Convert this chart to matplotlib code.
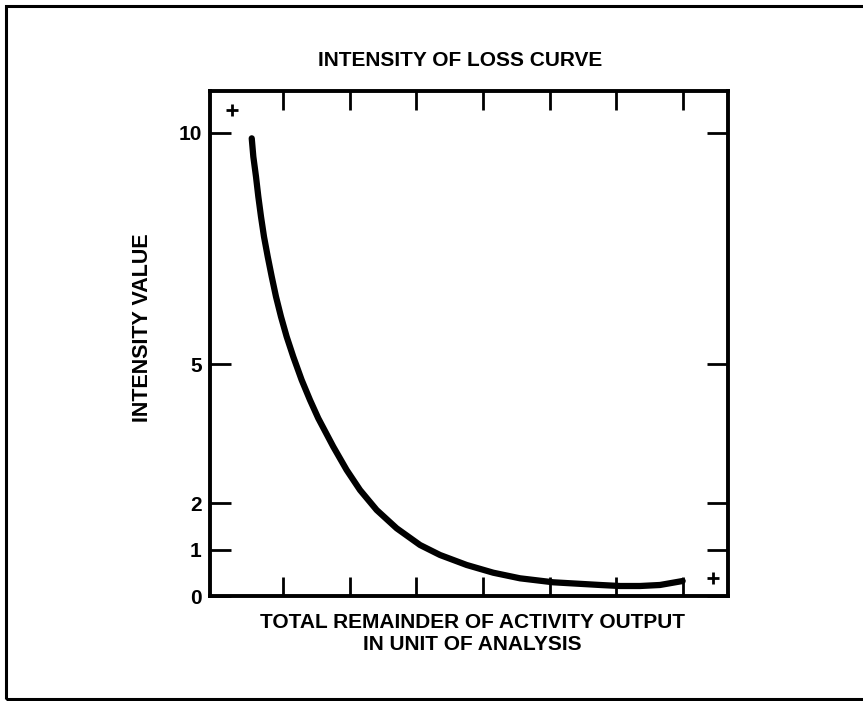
import matplotlib
matplotlib.use("Agg")
import matplotlib.pyplot as plt
from matplotlib.patches import Rectangle

plt.rcParams['font.family'] = ['Liberation Sans', 'DejaVu Sans']

# Data
curve_x = [0.531, 0.555, 0.595, 0.630, 0.670, 0.715, 0.771, 0.831, 0.895, 0.970,
           1.055, 1.154, 1.280, 1.405, 1.529, 1.754, 1.955, 2.155, 2.405, 2.705,
           3.055, 3.355, 3.755, 4.154, 4.555, 5.054, 5.755, 6.055, 6.355, 6.655,
           6.995]
curve_y = [9.885, 9.488, 9.056, 8.624, 8.192, 7.760, 7.328, 6.896, 6.464, 6.032,
           5.600, 5.168, 4.665, 4.233, 3.838, 3.225, 2.721, 2.289, 1.857, 1.462,
           1.102, 0.886, 0.670, 0.503, 0.382, 0.296, 0.238, 0.216, 0.216, 0.238,
           0.324]
x_ticks = [1, 2, 3, 4, 5, 6, 7]
y_ticks = [0, 1, 2, 5, 10]
y_tick_labels = ["0", "1", "2", "5", "10"]
mark_x = [0.23, 7.445]
mark_y = [10.5, 0.38]

title = "INTENSITY OF LOSS CURVE"
xlabel = "TOTAL REMAINDER OF ACTIVITY OUTPUT\nIN UNIT OF ANALYSIS"
ylabel = "INTENSITY VALUE"

fig = plt.figure(figsize=(8.63, 7.01), dpi=100)
W, H = 863, 701

# outer frame (right side runs off the image)
fig.patches.append(Rectangle((5.5 / W, 1 - 698.5 / H), 1.1, (698.5 - 6) / H,
                             transform=fig.transFigure, fill=False,
                             edgecolor='black', linewidth=2.2))

ax = fig.add_axes([210 / W, 1 - 596 / H, (728 - 210) / W, (596 - 91) / H])
ax.plot(curve_x, curve_y, color='black', linewidth=4.5,
        solid_capstyle='round', solid_joinstyle='round')
ax.plot(mark_x, mark_y, linestyle='none', marker='+', color='black',
        markersize=8, markeredgewidth=2)

ax.set_xlim(-0.095, 7.675)
ax.set_ylim(0, 10.907)
ax.set_xticks(x_ticks)
ax.set_xticklabels([])
ax.set_yticks(y_ticks)
ax.set_yticklabels(y_tick_labels, fontsize=15, fontweight='bold')
ax.tick_params(axis='both', direction='in', length=14, width=2.0,
               top=True, right=True, pad=6)
ax.tick_params(axis='y', length=15)
for s in ax.spines.values():
    s.set_linewidth(2.8)

fig.text(460 / W, 1 - 60 / H, title, ha='center', va='center',
         fontsize=15, fontweight='bold')
fig.text(472 / W, 1 - 634 / H, xlabel, ha='center', va='center',
         fontsize=15, fontweight='bold', linespacing=1.2)
fig.text(142 / W, 1 - 328 / H, ylabel, ha='center', va='center',
         rotation=90, fontsize=15.5, fontweight='bold')

fig.savefig("out.png", dpi=100)
